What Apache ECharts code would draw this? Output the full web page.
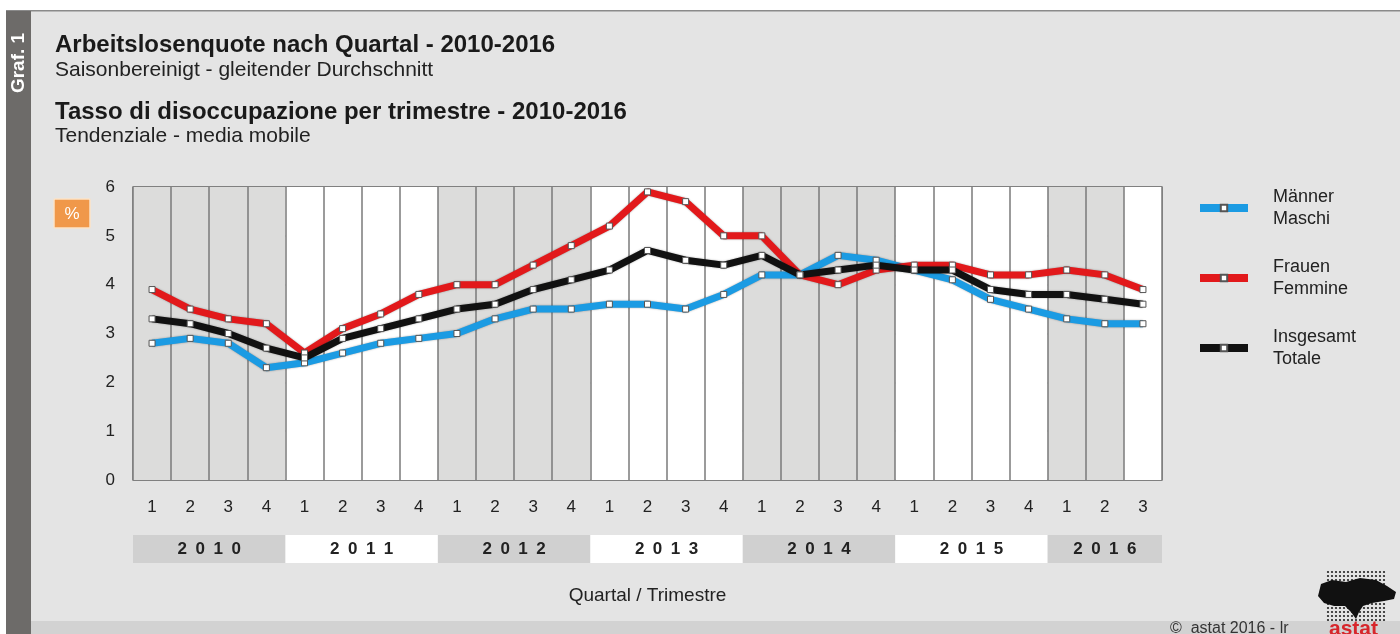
<!DOCTYPE html>
<html><head><meta charset="utf-8">
<script src="https://cdn.jsdelivr.net/npm/echarts@6/dist/echarts.min.js"></script>
<style>html,body{margin:0;padding:0;background:#fff}#c{width:1400px;height:634px}</style>
</head><body><div id="c"></div>
<script>
// ---- data ----
const years = ['2010', '2011', '2012', '2013', '2014', '2015', '2016'];
const quartersPerYear = [4, 4, 4, 4, 4, 4, 3];
const quarterLabels = ['1', '2', '3', '4'];
const yTicks = [0, 1, 2, 3, 4, 5, 6];
const maenner = [2.8, 2.9, 2.8, 2.3, 2.4, 2.6, 2.8, 2.9, 3.0, 3.3, 3.5, 3.5, 3.6, 3.6, 3.5, 3.8, 4.2, 4.2, 4.6, 4.5, 4.3, 4.1, 3.7, 3.5, 3.3, 3.2, 3.2];
const frauen = [3.9, 3.5, 3.3, 3.2, 2.6, 3.1, 3.4, 3.8, 4.0, 4.0, 4.4, 4.8, 5.2, 5.9, 5.7, 5.0, 5.0, 4.2, 4.0, 4.3, 4.4, 4.4, 4.2, 4.2, 4.3, 4.2, 3.9];
const insgesamt = [3.3, 3.2, 3.0, 2.7, 2.5, 2.9, 3.1, 3.3, 3.5, 3.6, 3.9, 4.1, 4.3, 4.7, 4.5, 4.4, 4.6, 4.2, 4.3, 4.4, 4.3, 4.3, 3.9, 3.8, 3.8, 3.7, 3.6];
const seriesNames = ['Männer\nMaschi', 'Frauen\nFemmine', 'Insgesamt\nTotale'];
const seriesColors = ['#1b9be3', '#e2191b', '#111111'];

const categories = [];
years.forEach((y, i) => {
  for (let q = 0; q < quartersPerYear[i]; q++) categories.push(y + '-' + quarterLabels[q]);
});

const FONT = '"Liberation Sans", Arial, sans-serif';
const chart = echarts.init(document.getElementById('c'), null, { renderer: 'canvas' });

function lineSeries(name, data, color) {
  return {
    name: name, type: 'line', data: data, z: 5,
    symbol: 'rect', symbolSize: 6, showSymbol: true,
    lineStyle: { width: 7, color: color, shadowColor: 'rgba(0,0,0,0.35)', shadowBlur: 2 },
    itemStyle: { color: '#ffffff', borderColor: '#555', borderWidth: 1 },
    emphasis: { disabled: true }, animation: false
  };
}

const option = {
  backgroundColor: '#ffffff',
  animation: false,
  textStyle: { fontFamily: FONT },
  title: [
    { text: 'Arbeitslosenquote nach Quartal - 2010-2016', subtext: 'Saisonbereinigt - gleitender Durchschnitt',
      left: 50, top: 28, itemGap: 3,
      textStyle: { fontFamily: FONT, fontSize: 24, fontWeight: 'bold', color: '#1a1a1a' },
      subtextStyle: { fontFamily: FONT, fontSize: 21, color: '#222' } },
    { text: 'Tasso di disoccupazione per trimestre - 2010-2016', subtext: 'Tendenziale - media mobile',
      left: 50, top: 95, itemGap: 2,
      textStyle: { fontFamily: FONT, fontSize: 24, fontWeight: 'bold', color: '#1a1a1a' },
      subtextStyle: { fontFamily: FONT, fontSize: 21, color: '#222' } }
  ],
  legend: {
    orient: 'vertical', left: 1191, top: 181, itemWidth: 48, itemHeight: 8, itemGap: 26,
    data: seriesNames, selectedMode: false,
    lineStyle: { width: 8 },
    textStyle: { fontFamily: FONT, fontSize: 18, color: '#222', lineHeight: 22, padding: [0, 0, 0, 20] }
  },
  grid: { left: 133, right: 238, top: 187, bottom: 154, show: true, backgroundColor: '#ffffff', borderColor: '#7a7a7a', borderWidth: 1.5 },
  xAxis: {
    type: 'category', data: categories, boundaryGap: true, z: 2,
    name: 'Quartal / Trimestre', nameLocation: 'middle', nameGap: 106,
    nameTextStyle: { fontFamily: FONT, fontSize: 19, color: '#222' },
    axisLine: { show: false }, axisTick: { show: false },
    axisLabel: { interval: 0, margin: 19, fontFamily: FONT, fontSize: 17, color: '#222', formatter: v => v.split('-')[1] },
    splitLine: { show: true, interval: 0, lineStyle: { color: '#7a7a7a', width: 1.5 } },
    splitArea: { show: true, interval: 3, areaStyle: { color: ['#dcdcdb', '#ffffff'] } }
  },
  yAxis: {
    type: 'value', min: yTicks[0], max: yTicks[yTicks.length - 1], interval: 1, z: 2,
    axisLine: { show: false }, axisTick: { show: false },
    axisLabel: { margin: 18, fontFamily: FONT, fontSize: 17, color: '#222' },
    splitLine: { show: true, lineStyle: { color: '#7a7a7a', width: 1.5 } }
  },
  series: [
    lineSeries(seriesNames[0], maenner, seriesColors[0]),
    lineSeries(seriesNames[1], frauen, seriesColors[1]),
    lineSeries(seriesNames[2], insgesamt, seriesColors[2])
  ],
  graphic: [
    { id: 'panel', type: 'rect', z: -10, silent: true, shape: { x: 6, y: 11, width: 1394, height: 623 }, style: { fill: '#e4e4e4' } },
    { id: 'topline', type: 'rect', z: -9, silent: true, shape: { x: 6, y: 10, width: 1394, height: 1.5 }, style: { fill: '#8a8a8a' } },
    { id: 'bottomband', type: 'rect', z: -9, silent: true, shape: { x: 31, y: 621, width: 1369, height: 13 }, style: { fill: '#d2d2d2' } },
    { id: 'strip', type: 'rect', z: -8, silent: true, shape: { x: 6, y: 11, width: 25, height: 623 }, style: { fill: '#6d6b69' } },
    { id: 'graf', type: 'text', z: 10, silent: true, x: 19, y: 63, rotation: Math.PI / 2,
      style: { text: 'Graf. 1', fill: '#ffffff', font: 'bold 19px ' + FONT, align: 'center', verticalAlign: 'middle' } },
    { id: 'pct', type: 'rect', z: 10, silent: true, shape: { x: 54, y: 199, width: 36, height: 29, r: 1 }, style: { fill: '#f0984a', stroke: '#fbe2c6', lineWidth: 1.5 } },
    { id: 'pcttxt', type: 'text', z: 11, silent: true, x: 72, y: 214, style: { text: '%', fill: '#ffffff', font: '17px ' + FONT, align: 'center', verticalAlign: 'middle' } },
    { id: 'copy', type: 'text', z: 10, silent: true, x: 1170, y: 629, style: { text: '©  astat 2016 - lr', fill: '#333', font: '16px ' + FONT, verticalAlign: 'middle' } },
    { id: 'astat', type: 'text', z: 10, silent: true, x: 1329, y: 629, style: { text: 'astat', fill: '#d7262b', font: 'bold 21px ' + FONT, verticalAlign: 'middle' } }
  ]
};
chart.setOption(option);

// year band under quarter labels, positioned through the x axis scale
const extra = [];
const c0 = chart.convertToPixel({ xAxisIndex: 0 }, categories[0]);
const c1 = chart.convertToPixel({ xAxisIndex: 0 }, categories[1]);
const bw = c1 - c0;
let start = 0;
years.forEach((y, i) => {
  const n = quartersPerYear[i];
  const xs = chart.convertToPixel({ xAxisIndex: 0 }, categories[start]) - bw / 2;
  const xe = chart.convertToPixel({ xAxisIndex: 0 }, categories[start + n - 1]) + bw / 2;
  extra.push({ id: 'yb' + i, type: 'rect', z: 1, silent: true, shape: { x: xs, y: 535, width: xe - xs, height: 28 }, style: { fill: i % 2 === 0 ? '#d0d0d0' : '#ffffff' } });
  extra.push({ id: 'yt' + i, type: 'text', z: 2, silent: true, x: (xs + xe) / 2, y: 549,
    style: { text: y.split('').join('\u2002'), fill: '#222', font: 'bold 17px ' + FONT, align: 'center', verticalAlign: 'middle' } });
  start += n;
});
// logo: dotted grid with black map silhouette
for (let r = 0; r < 13; r++) {
  for (let c = 0; c < 15; c++) {
    extra.push({ id: 'd' + r + '_' + c, type: 'circle', z: 3, silent: true, shape: { cx: 1328 + c * 4, cy: 572 + r * 4, r: 1.1 }, style: { fill: '#222' } });
  }
}
extra.push({ id: 'map', type: 'polygon', z: 4, silent: true,
  shape: { points: [[1321, 584], [1332, 580], [1346, 582], [1360, 578], [1376, 580], [1387, 586], [1396, 592], [1394, 599], [1384, 601], [1372, 603], [1363, 606], [1359, 612], [1356, 619], [1351, 612], [1345, 606], [1334, 606], [1324, 603], [1318, 596]] },
  style: { fill: '#111' } });
chart.setOption({ graphic: extra });
</script></body></html>
